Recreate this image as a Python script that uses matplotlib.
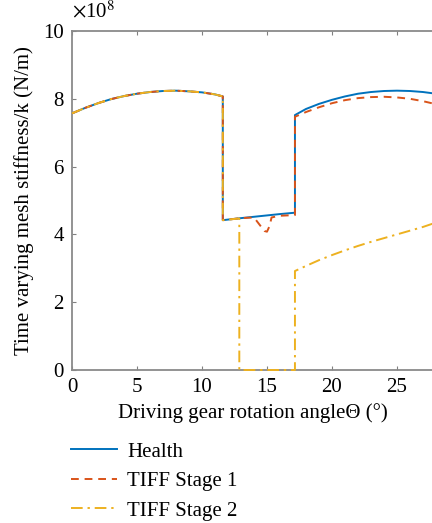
import matplotlib
matplotlib.use("Agg")
import matplotlib.pyplot as plt

plt.rcParams['font.family'] = ['Liberation Serif', 'DejaVu Serif']
plt.rcParams['mathtext.fontset'] = 'stix'

# Health
health_x = [0, 1, 2, 3, 4, 5, 6, 7, 8, 9, 10, 11, 11.6,
            11.6, 13, 14, 15, 16, 17.15,
            17.15, 18, 19, 20, 21, 22, 23, 24, 25, 26, 27, 28, 29]
health_y = [7.57, 7.73, 7.87, 7.99, 8.08, 8.15, 8.20, 8.23, 8.24, 8.22, 8.19, 8.13, 8.07,
            4.42, 4.48, 4.52, 4.56, 4.60, 4.64,
            7.52, 7.70, 7.85, 7.97, 8.07, 8.15, 8.20, 8.23, 8.24, 8.23, 8.20, 8.15, 8.09]

# TIFF Stage 1
s1_x = [0, 1, 2, 3, 4, 5, 6, 7, 8, 9, 10, 11, 11.6,
        11.6, 13, 14.0, 14.4, 14.8, 15.0, 15.2, 15.35, 16, 17.15,
        17.15, 18, 19, 20, 21, 22, 23, 24, 25, 26, 27, 28, 29]
s1_y = [7.57, 7.73, 7.87, 7.99, 8.08, 8.15, 8.20, 8.23, 8.24, 8.22, 8.19, 8.13, 8.07,
        4.42, 4.48, 4.50, 4.30, 4.10, 4.08, 4.25, 4.50, 4.55, 4.57,
        7.47, 7.61, 7.75, 7.87, 7.96, 8.02, 8.05, 8.06, 8.04, 8.00, 7.93, 7.84, 7.73]

# TIFF Stage 2
s2_x = [0, 1, 2, 3, 4, 5, 6, 7, 8, 9, 10, 11, 11.6,
        11.6, 12.87, 12.87, 17.15,
        17.15, 18, 19, 20, 21, 22, 23, 24, 25, 26, 27, 28, 29]
s2_y = [7.57, 7.73, 7.87, 7.99, 8.08, 8.15, 8.20, 8.23, 8.24, 8.22, 8.19, 8.13, 8.07,
        4.42, 4.47, 0.0, 0.0,
        2.92, 3.07, 3.24, 3.39, 3.53, 3.66, 3.78, 3.89, 4.00, 4.11, 4.22, 4.35, 4.45]

x_ticks = [0, 5, 10, 15, 20, 25]
y_ticks = [0, 2, 4, 6, 8, 10]

W, H = 432, 523
fig = plt.figure(figsize=(W / 100, H / 100), dpi=100)
ax = fig.add_axes([72 / W, 153 / H, 390 / W, 339 / H])

l1, = ax.plot(health_x, health_y, color='#0072BD', lw=1.4, label='Health')
l2, = ax.plot(s1_x, s1_y, color='#D95319', lw=1.4, ls=(0, (4, 3)), label='TIFF Stage 1')
l3, = ax.plot(s2_x, s2_y, color='#EDB120', lw=1.4, ls=(0, (6, 2.5, 1.2, 2.5)),
              label='TIFF Stage 2', clip_on=False, zorder=5)

ax.set_xlim(0, 30)
ax.set_ylim(0, 10)
ax.set_xticks(x_ticks)
ax.set_yticks(y_ticks)
ax.tick_params(direction='in', length=3, width=0.8, color='#808080',
               labelsize=15, top=True, right=True, pad=6)
for s in ax.spines.values():
    s.set_color('#8a8a8a')
    s.set_linewidth(1.3)

ax.text(0.0, 10.25, r'$\times$10$^{8}$', fontsize=15, ha='left', va='bottom')
fig.text(253 / W, 1 - 413 / H, 'Driving gear rotation angleΘ (°)', fontsize=15,
         ha='center', va='center')
fig.text(24 / W, 1 - 201 / H, 'Time varying mesh stiffness/k (N/m)', fontsize=15,
         rotation=90, ha='center', va='center')

fig.legend(handles=[l1, l2, l3], loc='upper left', bbox_to_anchor=(71 / W, 1 - 442 / H),
           frameon=False, fontsize=15, handlelength=2.2, labelspacing=0.48,
           handletextpad=0.5, borderaxespad=0, borderpad=0)

fig.savefig('out.png', dpi=100)
